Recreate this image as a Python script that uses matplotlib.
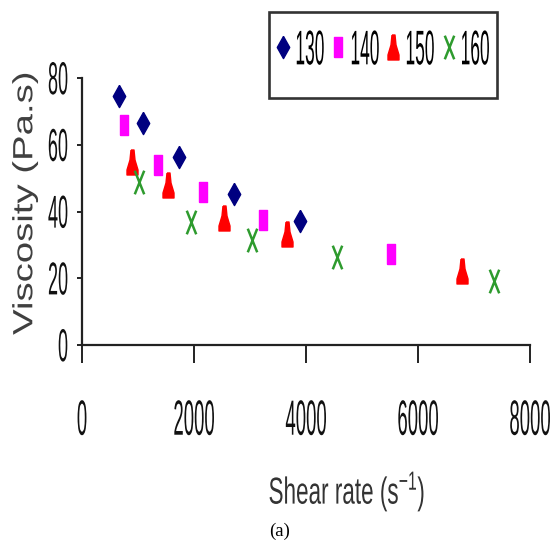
import matplotlib
matplotlib.use("Agg")
import matplotlib.pyplot as plt
from matplotlib.path import Path
from matplotlib.patches import Rectangle
from matplotlib.transforms import Affine2D
from matplotlib.patheffects import AbstractPathEffect

# ---------------- data ----------------
series_labels = ["130", "140", "150", "160"]
x130 = [661, 1084, 1732, 2714, 3893]
y130 = [74.6, 66.5, 56.2, 45.2, 37.1]
x140 = [750, 1352, 2161, 3232, 5512]
y140 = [65.9, 53.9, 45.7, 37.6, 27.2]
x150 = [893, 1536, 2536, 3661, 6786]
y150 = [54.8, 47.9, 38.0, 33.2, 22.2]
x160 = [1023, 1941, 3041, 4559, 7357]
y160 = [48.9, 36.9, 31.6, 26.4, 19.2]
xticks = [0, 2000, 4000, 6000, 8000]
yticks = [0, 20, 40, 60, 80]
xlabel = "Shear rate (s$^{-1}$)"
ylabel = "Viscosity (Pa.s)"
caption = "(a)"

plt.rcParams["mathtext.fontset"] = "custom"
plt.rcParams["mathtext.rm"] = "Liberation Sans"
plt.rcParams["mathtext.it"] = "Liberation Sans"
plt.rcParams["font.family"] = ["Liberation Sans", "DejaVu Sans"]


class Stretch(AbstractPathEffect):
    """Scale the glyph outlines of a text (kept as a Text artist)."""

    def __init__(self, sx=1.0, sy=1.0, anchor="center"):
        super().__init__()
        self.sx, self.sy, self.anchor = sx, sy, anchor

    def draw_path(self, renderer, gc, tpath, affine, rgbFace=None):
        ext = tpath.get_extents()
        if self.anchor == "right":
            cx = ext.x1
        elif self.anchor == "left":
            cx = ext.x0
        else:
            cx = 0.5 * (ext.x0 + ext.x1)
        cy = 0.5 * (ext.y0 + ext.y1)
        t = (Affine2D().translate(-cx, -cy).scale(self.sx, self.sy)
             .translate(cx, cy)) + affine
        renderer.draw_path(gc, tpath, t, rgbFace)


W, H = 551, 541
fig = plt.figure(figsize=(W / 100, H / 100), dpi=100)
ax = fig.add_axes([82 / W, 1 - 345 / H, 448 / W, 267 / H])

# marker shapes
diamond = Path([(0, 0.5), (0.28, 0), (0, -0.5), (-0.28, 0), (0, 0.5)])
rect = Path([(-0.21, -0.5), (0.21, -0.5), (0.21, 0.5), (-0.21, 0.5), (-0.21, -0.5)])
tri = Path([(-0.06, 0.5), (0.06, 0.5), (0.1, 0.1), (0.22, -0.3), (0.22, -0.5),
            (-0.22, -0.5), (-0.22, -0.3), (-0.1, 0.1), (-0.06, 0.5)])
cross = Path([(-0.2, 0.5), (0.2, -0.5), (0.2, 0.5), (-0.2, -0.5)],
             [Path.MOVETO, Path.LINETO, Path.MOVETO, Path.LINETO])

ax.plot(x130, y130, ls="none", marker=diamond, ms=16, color="#000080",
        mec="#000080", label=series_labels[0])
ax.plot(x140, y140, ls="none", marker=rect, ms=15, color="#ff00ff",
        mec="#ff00ff", label=series_labels[1])
ax.plot(x150, y150, ls="none", marker=tri, ms=18, color="#ff0000",
        mec="#ff0000", label=series_labels[2])
ax.plot(x160, y160, ls="none", marker=cross, ms=17, color="#2e9b2e",
        mec="#2e9b2e", mew=1.8, mfc="none", label=series_labels[3])

ax.set_xlim(0, 8000)
ax.set_ylim(0, 80)
for s in ("top", "right"):
    ax.spines[s].set_visible(False)
for s in ("left", "bottom"):
    ax.spines[s].set_linewidth(1.6)
    ax.spines[s].set_color("#222222")

ax.set_xticks(xticks)
ax.set_yticks(yticks)
ax.set_xticklabels([str(v) for v in xticks])
ax.set_yticklabels([str(v) for v in yticks])
ax.tick_params(axis="x", direction="out", length=13, width=1.4,
               color="#222222", labelsize=12.5, pad=35, labelcolor="#111111")
ax.tick_params(axis="y", direction="out", length=3.5, width=1.4,
               color="#222222", labelsize=13, pad=6.5, labelcolor="#111111")
for lab in ax.get_xticklabels():
    lab.set_path_effects([Stretch(sx=1.07, sy=2.85)])
for lab in ax.get_yticklabels():
    lab.set_path_effects([Stretch(sy=2.55, anchor="right")])

xl = ax.set_xlabel(xlabel, fontsize=16.2, color="#333333", va="center")
ax.xaxis.set_label_coords((347 - 82) / 448, (345 - 492) / 267)
xl.set_path_effects([Stretch(sy=1.67)])

yl = ax.set_ylabel(ylabel, fontsize=27.6, color="#404040", va="center")
ax.yaxis.set_label_coords((25 - 82) / 448, (345 - 203) / 267)
yl.set_path_effects([Stretch(sy=0.725)])

leg = ax.legend(loc="center", bbox_to_anchor=(383 / W, 1 - 49 / H),
                bbox_transform=fig.transFigure, ncol=4, frameon=False,
                fontsize=12.5, handlelength=0.8, handletextpad=0.3,
                columnspacing=0.4, borderpad=0.2, numpoints=1)
for t in leg.get_texts():
    t.set_path_effects([Stretch(sy=2.8)])

fig.patches.append(Rectangle((269 / W, 1 - 98 / H), 228 / W, 86 / H,
                             transform=fig.transFigure, fill=False,
                             edgecolor="#333333", linewidth=1.9))

fig.text(280 / W, 1 - 531 / H, caption, family="Liberation Serif",
         fontsize=13.5, ha="center", va="center", color="black")

fig.savefig("out.png", dpi=100)
